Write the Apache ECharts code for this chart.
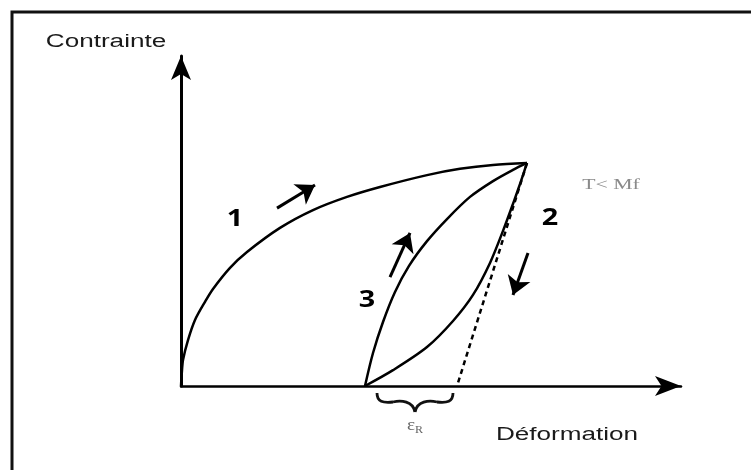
<!DOCTYPE html>
<html>
<head>
<meta charset="utf-8">
<script src="https://cdn.jsdelivr.net/npm/echarts@6/dist/echarts.min.js"></script>
<style>
  html, body { margin: 0; padding: 0; background: #fff; }
  #chart { width: 751px; height: 470px; }
</style>
</head>
<body>
<div id="chart"></div>
<script>
// Stress–strain cycle below Mf (arbitrary units: strain on x, stress on y)

// 1 : loading from the origin up to the peak
const loadingCurve = [
  [0, 0], [0.02, 0.48], [0.04, 0.79], [0.14, 1.39], [0.28, 2.0], [0.48, 2.55],
  [0.64, 2.94], [0.98, 3.58], [1.32, 4.06], [1.98, 4.79], [2.64, 5.33], [3.32, 5.73],
  [3.98, 6.03], [4.92, 6.39], [5.58, 6.58], [6.24, 6.7], [6.92, 6.76]
];
// 2 : unloading from the peak back to zero stress
const unloadingCurve = [
  [6.92, 6.76], [6.8, 6.21], [6.64, 5.52], [6.44, 4.7], [6.18, 3.73], [5.84, 2.76],
  [5.44, 1.97], [4.92, 1.18], [4.24, 0.48], [3.68, 0]
];
// 3 : reloading from the residual strain back to the peak
const reloadingCurve = [
  [3.68, 0], [3.84, 1.0], [4.04, 1.94], [4.28, 2.85], [4.56, 3.64], [4.92, 4.39],
  [5.32, 5.06], [5.78, 5.73], [6.24, 6.21], [6.64, 6.55], [6.92, 6.76]
];
// purely elastic unloading (dashed)
const elasticLine = [[6.92, 6.76], [5.52, 0]];

// direction arrows along each path: [from, to]
const directionArrows = [
  [[1.92, 5.39], [2.68, 6.09]],
  [[6.94, 4.03], [6.64, 2.76]],
  [[4.18, 3.30], [4.58, 4.64]]
];

// path numbers and the temperature note
const pathLabels = [[1.08, 5.06, '1'], [7.38, 5.09, '2'], [3.72, 2.6, '3']];
const noteLabels = [[8.60, 6.09, 'T< Mf']];

// residual strain interval on the strain axis
const residualStrain = [3.68, 5.52];

const axisNames = { x: 'Déformation', y: 'Contrainte' };

const chart = echarts.init(document.getElementById('chart'), null, { renderer: 'canvas' });

const curveStyle = { color: '#000', width: 2.5 };

chart.setOption({
  animation: false,
  backgroundColor: '#fff',
  grid: { left: 181, top: 56, width: 500, height: 330 },
  xAxis: {
    type: 'value', min: 0, max: 10,
    axisLine: { show: true, symbol: ['none', 'arrow'], symbolSize: [15, 26],
      lineStyle: { color: '#000', width: 2.5 } },
    axisTick: { show: false }, axisLabel: { show: false }, splitLine: { show: false }
  },
  yAxis: {
    type: 'value', min: 0, max: 10,
    axisLine: { show: true, symbol: ['none', 'arrow'], symbolSize: [15, 24],
      lineStyle: { color: '#000', width: 3 } },
    axisTick: { show: false }, axisLabel: { show: false }, splitLine: { show: false }
  },
  series: [
    { type: 'line', data: loadingCurve, smooth: 0.3, symbol: 'none', lineStyle: curveStyle },
    { type: 'line', data: unloadingCurve, smooth: 0.3, symbol: 'none', lineStyle: curveStyle },
    { type: 'line', data: reloadingCurve, smooth: 0.3, symbol: 'none', lineStyle: curveStyle },
    { type: 'line', data: elasticLine, symbol: 'none',
      lineStyle: { color: '#000', width: 2.5, type: [5, 4] } },
    {
      type: 'lines', coordinateSystem: 'cartesian2d',
      symbol: ['none', 'arrow'], symbolSize: [12, 18],
      lineStyle: { color: '#000', width: 3, opacity: 1 },
      data: directionArrows.map(a => ({ coords: a }))
    }
  ]
});

// annotations placed through the grid's coordinate conversion
const toPx = v => chart.convertToPixel({ gridIndex: 0 }, v);
const originPx = toPx([0, 0]);
const axisEndY = toPx([0, 10]);
const axisEndX = toPx([10, 0]);
const rs0 = toPx([residualStrain[0], 0]);
const rs1 = toPx([residualStrain[1], 0]);
const bx1 = rs0[0] + 12, bx2 = rs1[0] - 4, by = rs0[1] + 7, bm = (bx1 + bx2) / 2;

const stretch = 1.45;
const braceStyle = { fill: 'none', stroke: '#111', lineWidth: 2.8 };
const bez = (x1, y1, cx1, cy1, cx2, cy2, x2, y2) => ({
  type: 'bezierCurve',
  shape: { x1, y1, cpx1: cx1, cpy1: cy1, cpx2: cx2, cpy2: cy2, x2, y2 },
  style: braceStyle
});

const labelTexts = pathLabels.map(([x, y, t]) => {
  const p = toPx([x, y]);
  return { type: 'text', x: p[0], y: p[1], scaleX: 1.25,
    style: { text: t, align: 'center', verticalAlign: 'middle',
      font: 'bold 23px "Open Sans"', fill: '#000' } };
});
const noteTexts = noteLabels.map(([x, y, t]) => {
  const p = toPx([x, y]);
  return { type: 'text', x: p[0], y: p[1], scaleX: stretch,
    style: { text: t, align: 'center', verticalAlign: 'middle',
      font: '15px "Liberation Serif"', fill: '#8a8a8a' } };
});

chart.setOption({
  graphic: [
    { type: 'rect', shape: { x: 12, y: 12, width: 800, height: 500 },
      style: { fill: 'none', stroke: '#111', lineWidth: 3 } },
    { type: 'text', x: originPx[0] - 75, y: axisEndY[1] - 14, scaleX: stretch,
      style: { text: axisNames.y, align: 'center', verticalAlign: 'middle',
        font: '18px "Liberation Sans"', fill: '#1a1a1a' } },
    { type: 'text', x: axisEndX[0] - 114, y: originPx[1] + 49, scaleX: stretch,
      style: { text: axisNames.x, align: 'center', verticalAlign: 'middle',
        font: '18px "Liberation Sans"', fill: '#1a1a1a' } },
    bez(bx1, by, bx1, by + 9, bx1 + 6, by + 10, bx1 + 16, by + 9),
    bez(bx1 + 16, by + 9, bm - 14, by + 7, bm - 2, by + 8, bm, by + 19),
    bez(bm, by + 19, bm + 2, by + 8, bm + 14, by + 7, bx2 - 16, by + 9),
    bez(bx2 - 16, by + 9, bx2 - 6, by + 10, bx2, by + 9, bx2, by),
    { type: 'text', x: bm, y: originPx[1] + 40, scaleX: 1.2,
      style: { text: '{e|ε}{r|R}', align: 'center', verticalAlign: 'middle',
        rich: {
          e: { fontFamily: 'Liberation Serif', fontSize: 16, fill: '#666' },
          r: { fontFamily: 'Liberation Serif', fontSize: 10, fill: '#666', padding: [8, 0, 0, 0] }
        } } }
  ].concat(labelTexts, noteTexts)
});
</script>
</body>
</html>
